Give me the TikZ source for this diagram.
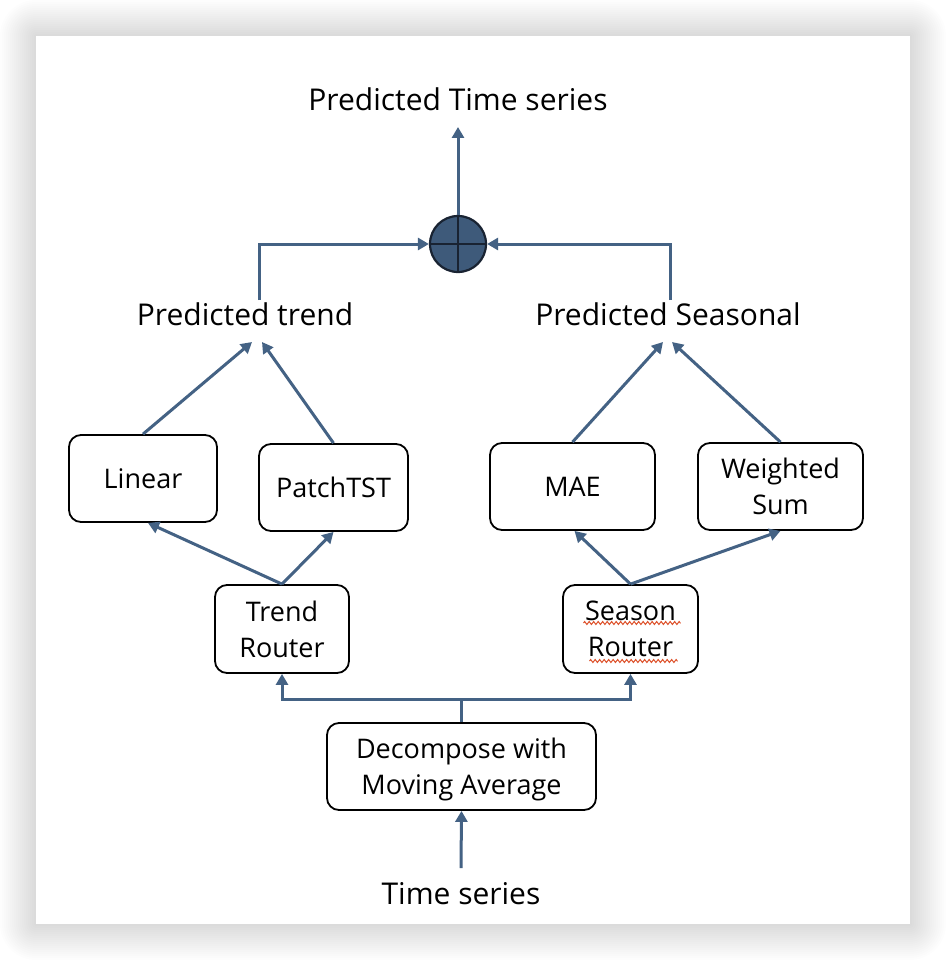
\documentclass[tikz,border=0pt]{standalone}
\usepackage{fontspec}
\setmainfont{Open Sans}
\usetikzlibrary{arrows.meta,calc,decorations.pathmorphing}
\definecolor{arrcol}{RGB}{68,98,132}
\definecolor{circfill}{RGB}{62,90,122}
\definecolor{circline}{RGB}{25,35,50}
\definecolor{squig}{RGB}{222,84,46}
\begin{document}
\begin{tikzpicture}[x=1pt,y=-1pt,
  stepbox/.style={draw=black,line width=1.8pt,rounded corners=12pt,align=center,
    font=\fontsize{27}{36}\selectfont,inner sep=0pt},
  lbl/.style={font=\fontsize{30}{34}\selectfont,inner sep=0pt,anchor=base},
  conn/.style={draw=arrcol,line width=3pt},
  arr/.style={conn,-{Triangle[length=11pt,width=12pt]}},
  squiggle/.style={draw=squig,line width=1pt,decorate,
    decoration={zigzag,segment length=4.5pt,amplitude=1.5pt}}]
\useasboundingbox (0,0) rectangle (946,960);
\fill[white] (0,0) rectangle (946,960);
% shadow of the page
\foreach \i in {1,...,18}{
  \fill[black,opacity=0.008,rounded corners=2*\i] (36-2*\i,36-2*\i) rectangle (910+2*\i,924+2*\i);
}
\fill[white] (36,36) rectangle (910,924);

% labels
\node[lbl] (title) at (458,111) {Predicted Time series};
\node[lbl] (ptrend) at (245,325) {Predicted trend};
\node[lbl] (pseason) at (668,325) {Predicted Seasonal};
\node[lbl] (ts) at (461,904) {Time series};

% sum circle
\node[circle,minimum size=56pt,inner sep=0pt,fill=circfill,draw=circline,line width=2.2pt,
  path picture={\draw[circline,line width=2.2pt]
    (path picture bounding box.north) -- (path picture bounding box.south)
    (path picture bounding box.west) -- (path picture bounding box.east);}]
  (plus) at (458,244) {};

% boxes
\node[stepbox,minimum width=148pt,minimum height=87pt] (linear) at (143,478.5) {Linear};
\node[stepbox,minimum width=149pt,minimum height=87pt] (patch) at (333.5,487.5) {PatchTST};
\node[stepbox,minimum width=165pt,minimum height=87pt] (mae) at (572.5,486.5) {MAE};
\node[stepbox,minimum width=165pt,minimum height=87pt] (wsum) at (780.5,486.5) {Weighted\\Sum};
\node[stepbox,minimum width=134pt,minimum height=88pt] (trouter) at (282,629) {Trend\\Router};
\node[stepbox,minimum width=135pt,minimum height=88pt] (srouter) at (630.5,629) {Season\\Router};
\node[stepbox,minimum width=269pt,minimum height=87pt,text depth=0pt] (decomp) at (461.5,766.5) {Decompose with\\Moving Average};

% spell-check squiggles
\draw[squiggle] ($(srouter.center)+(-47,-6)$) -- ($(srouter.center)+(50,-6)$);
\draw[squiggle] ($(srouter.center)+(-41,32)$) -- ($(srouter.center)+(47,32)$);

% connectors
\draw[arr] (plus.north) -- ([yshift=-16pt]title.base);
\draw[arr] ([xshift=14pt,yshift=25pt]ptrend.base) |- (plus.west);
\draw[arr] ([xshift=2pt,yshift=25pt]pseason.base) |- (plus.east);

\draw[arr] (linear.north) -- ([xshift=7pt,yshift=-17pt]ptrend.base);
\draw[arr] (patch.north) -- ([xshift=17pt,yshift=-17pt]ptrend.base);
\draw[arr] (mae.north) -- ([xshift=-5pt,yshift=-17pt]pseason.base);
\draw[arr] (wsum.north) -- ([xshift=4pt,yshift=-17pt]pseason.base);

\draw[arr] (trouter.north) -- ([xshift=5pt]linear.south);
\draw[arr] (trouter.north) -- (patch.south);
\draw[arr] (srouter.north) -- ([xshift=2pt]mae.south);
\draw[arr] (srouter.north) -- (wsum.south);

\draw[conn] (decomp.north) -- ++(0,-23) coordinate (junc);
\draw[arr] (junc) -| (trouter.south);
\draw[arr] (junc) -| (srouter.south);
\draw[arr] ([yshift=36pt]ts.base) -- (decomp.south);
\end{tikzpicture}
\end{document}
